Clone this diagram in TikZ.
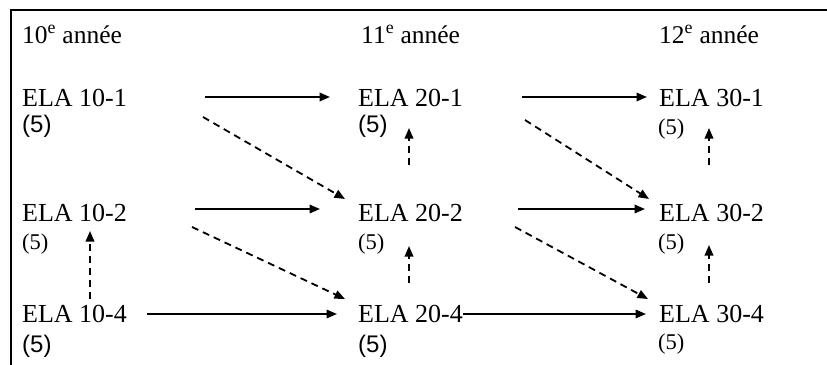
\documentclass[tikz,border=0pt]{standalone}
\usepackage{fontspec}
\setmainfont{Liberation Serif}
\newfontfamily\arialf{Liberation Sans}
\usetikzlibrary{arrows.meta}
\begin{document}
\begin{tikzpicture}[x=1pt,y=-1pt,
  hdr/.style={anchor=base west, inner sep=0pt, font=\fontsize{25.5}{30}\selectfont},
  ela/.style={anchor=base west, inner sep=0pt, font=\fontsize{26}{30}\selectfont},
  numsans/.style={anchor=base west, inner sep=0pt, font=\arialf\fontsize{24}{28}\selectfont},
  numserif/.style={anchor=base west, inner sep=0pt, font=\fontsize{22.5}{26}\selectfont},
  solidarr/.style={-{Triangle[length=10.5pt,width=8.5pt]}, line width=1.9pt},
  dasharr/.style={-{Triangle[length=10.5pt,width=8.5pt]}, line width=1.8pt, dash pattern=on 7pt off 5pt},
  boxline/.style={line width=2pt}]
\useasboundingbox (0,0) rectangle (827,364);
\draw[boxline] (11,10) -- (830,10);
\draw[boxline] (11,9) -- (11,368);

% headers
\node[hdr] (h1) at (22,43) {10\textsuperscript{e} année};
\node[hdr] (h2) at (361,43) {11\textsuperscript{e} année};
\node[hdr] (h3) at (659,43) {12\textsuperscript{e} année};

% courses
\node[ela] (a1) at (22,106) {ELA 10-1};
\node[ela] (b1) at (358,106) {ELA 20-1};
\node[ela] (c1) at (659,106) {ELA 30-1};
\node[ela] (a2) at (22,221) {ELA 10-2};
\node[ela] (b2) at (358,221) {ELA 20-2};
\node[ela] (c2) at (659,221) {ELA 30-2};
\node[ela] (a3) at (22,322) {ELA 10-4};
\node[ela] (b3) at (358,322) {ELA 20-4};
\node[ela] (c3) at (659,322) {ELA 30-4};

% credits
\node[numsans]  (pa1) at (22,132) {(5)};
\node[numsans]  (pb1) at (358,132) {(5)};
\node[numserif] (pc1) at (658,134) {(5)};
\node[numserif] (pa2) at (22,249) {(5)};
\node[numserif] (pb2) at (358,249) {(5)};
\node[numserif] (pc2) at (658,249) {(5)};
\node[numsans]  (pa3) at (22,352) {(5)};
\node[numsans]  (pb3) at (358,352) {(5)};
\node[numserif] (pc3) at (658,349) {(5)};

% solid horizontal arrows
\draw[solidarr] ([shift={(183,-9)}]a1.base west) -- ([shift={(-28,-9)}]b1.base west);
\draw[solidarr] ([shift={(164,-9)}]b1.base west) -- ([shift={(-12,-9)}]c1.base west);
\draw[solidarr] ([shift={(173,-12)}]a2.base west) -- ([shift={(-38,-12)}]b2.base west);
\draw[solidarr] ([shift={(160,-12)}]b2.base west) -- ([shift={(-14,-12)}]c2.base west);
\draw[solidarr] ([shift={(125,-8)}]a3.base west) -- ([shift={(-21,-8)}]b3.base west);
\draw[solidarr] ([shift={(105,-8)}]b3.base west) -- ([shift={(-13,-8)}]c3.base west);

% dashed diagonal arrows
\draw[dasharr] ([shift={(181,11)}]a1.base west) -- ([shift={(-13,-22)}]b2.base west);
\draw[dasharr] ([shift={(167,14)}]b1.base west) -- ([shift={(-10,-22)}]c2.base west);
\draw[dasharr] ([shift={(170,6)}]a2.base west) -- ([shift={(-13,-23)}]b3.base west);
\draw[dasharr] ([shift={(157,6)}]b2.base west) -- ([shift={(-11,-23)}]c3.base west);

% dashed vertical arrows
\draw[dasharr] ([shift={(68,-23)}]a3.base west) -- ([shift={(68,10)}]a2.base west);
\draw[dasharr] ([shift={(51,-56)}]b2.base west) -- ([shift={(51,22)}]b1.base west);
\draw[dasharr] ([shift={(51,-39)}]b3.base west) -- ([shift={(51,25)}]b2.base west);
\draw[dasharr] ([shift={(50,-56)}]c2.base west) -- ([shift={(50,22)}]c1.base west);
\draw[dasharr] ([shift={(50,-39)}]c3.base west) -- ([shift={(50,24)}]c2.base west);
\end{tikzpicture}
\end{document}
